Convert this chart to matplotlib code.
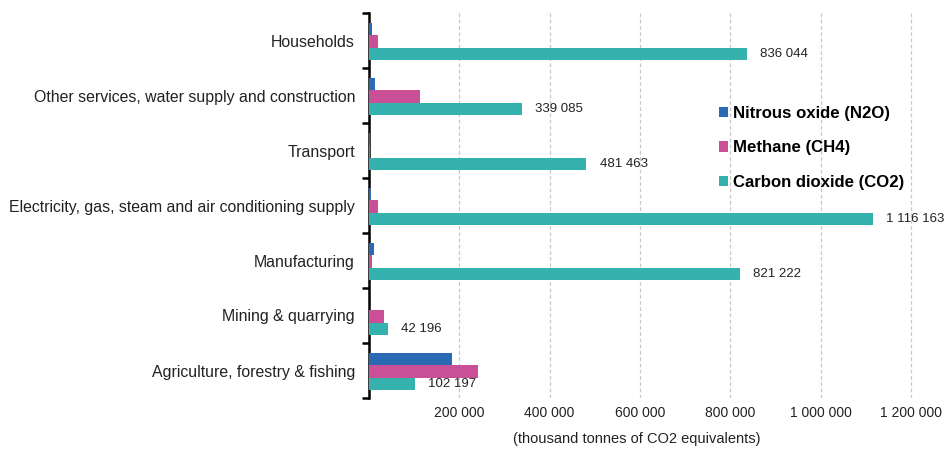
import matplotlib
matplotlib.use("Agg")
import matplotlib.pyplot as plt
from matplotlib.ticker import FuncFormatter
import numpy as np

plt.rcParams["font.family"] = ["Liberation Sans", "DejaVu Sans"]

# Greenhouse gas emissions by economic activity (thousand tonnes CO2 equivalents)
sectors = [
    "Households",
    "Other services, water supply and construction",
    "Transport",
    "Electricity, gas, steam and air conditioning supply",
    "Manufacturing",
    "Mining & quarrying",
    "Agriculture, forestry & fishing",
]
n2o = [7000, 14000, 3000, 5000, 10000, 500, 184000]
ch4 = [19000, 114000, 2000, 19000, 7000, 33000, 241000]
co2 = [836044, 339085, 481463, 1116163, 821222, 42196, 102197]

series = [
    ("Nitrous oxide (N2O)", n2o, "#2a6ab4"),
    ("Methane (CH4)", ch4, "#c94f96"),
    ("Carbon dioxide (CO2)", co2, "#35b1ae"),
]

fig = plt.figure(figsize=(9.48, 4.5), dpi=100)
ax = fig.add_axes([369 / 948, 52 / 450, 1 - 369 / 948, 385 / 450])

y = np.arange(len(sectors))[::-1]  # first sector at the top
h = 0.225
for i, (name, vals, col) in enumerate(series):
    off = (1 - i) * h - 0.02
    ax.barh(y + off, vals, height=h, color=col, label=name, zorder=3)
    if name.startswith("Carbon"):
        for yy, v in zip(y, vals):
            lbl = f"{v:,}".replace(",", " ")
            ax.text(v + 29000, yy + off, lbl, va="center", ha="left",
                    fontsize=9.5, color="#222222", zorder=4)

ax.set_xlim(0, 1282000)
ax.set_ylim(-0.5, len(sectors) - 0.5)

ax.set_xticks([200000, 400000, 600000, 800000, 1000000, 1200000])
ax.xaxis.set_major_formatter(FuncFormatter(lambda v, p: f"{int(v):,}".replace(",", " ")))
ax.tick_params(axis="x", length=0, labelsize=10, pad=6, colors="#222222")
ax.grid(axis="x", color="#c8c8c8", linestyle=(0, (3, 2)), linewidth=0.9, zorder=0)

# category labels centred, tick marks on category boundaries
ax.set_yticks(y)
ax.set_yticklabels(sectors, fontsize=11.4, color="#222222")
ax.tick_params(axis="y", which="major", length=0, pad=10)
ax.set_yticks(np.arange(len(sectors) + 1) - 0.5, minor=True)
ax.tick_params(axis="y", which="minor", length=5, width=1.8, color="black")

for s in ["top", "right", "bottom"]:
    ax.spines[s].set_visible(False)
ax.spines["left"].set_linewidth(1.8)
ax.spines["left"].set_color("black")

fig.text(637 / 948, 11 / 450, "(thousand tonnes of CO2 equivalents)",
         ha="center", va="center", fontsize=10.5, color="#222222")

leg = ax.legend(loc="upper left", bbox_to_anchor=((704 - 369) / (948 - 369), 1 - (91 - 13) / 385),
                frameon=False, prop={"weight": "bold", "size": 12.1},
                handlelength=0.55, handleheight=0.55, handletextpad=0.3, labelspacing=1.15)

fig.savefig("out.png", dpi=100)
